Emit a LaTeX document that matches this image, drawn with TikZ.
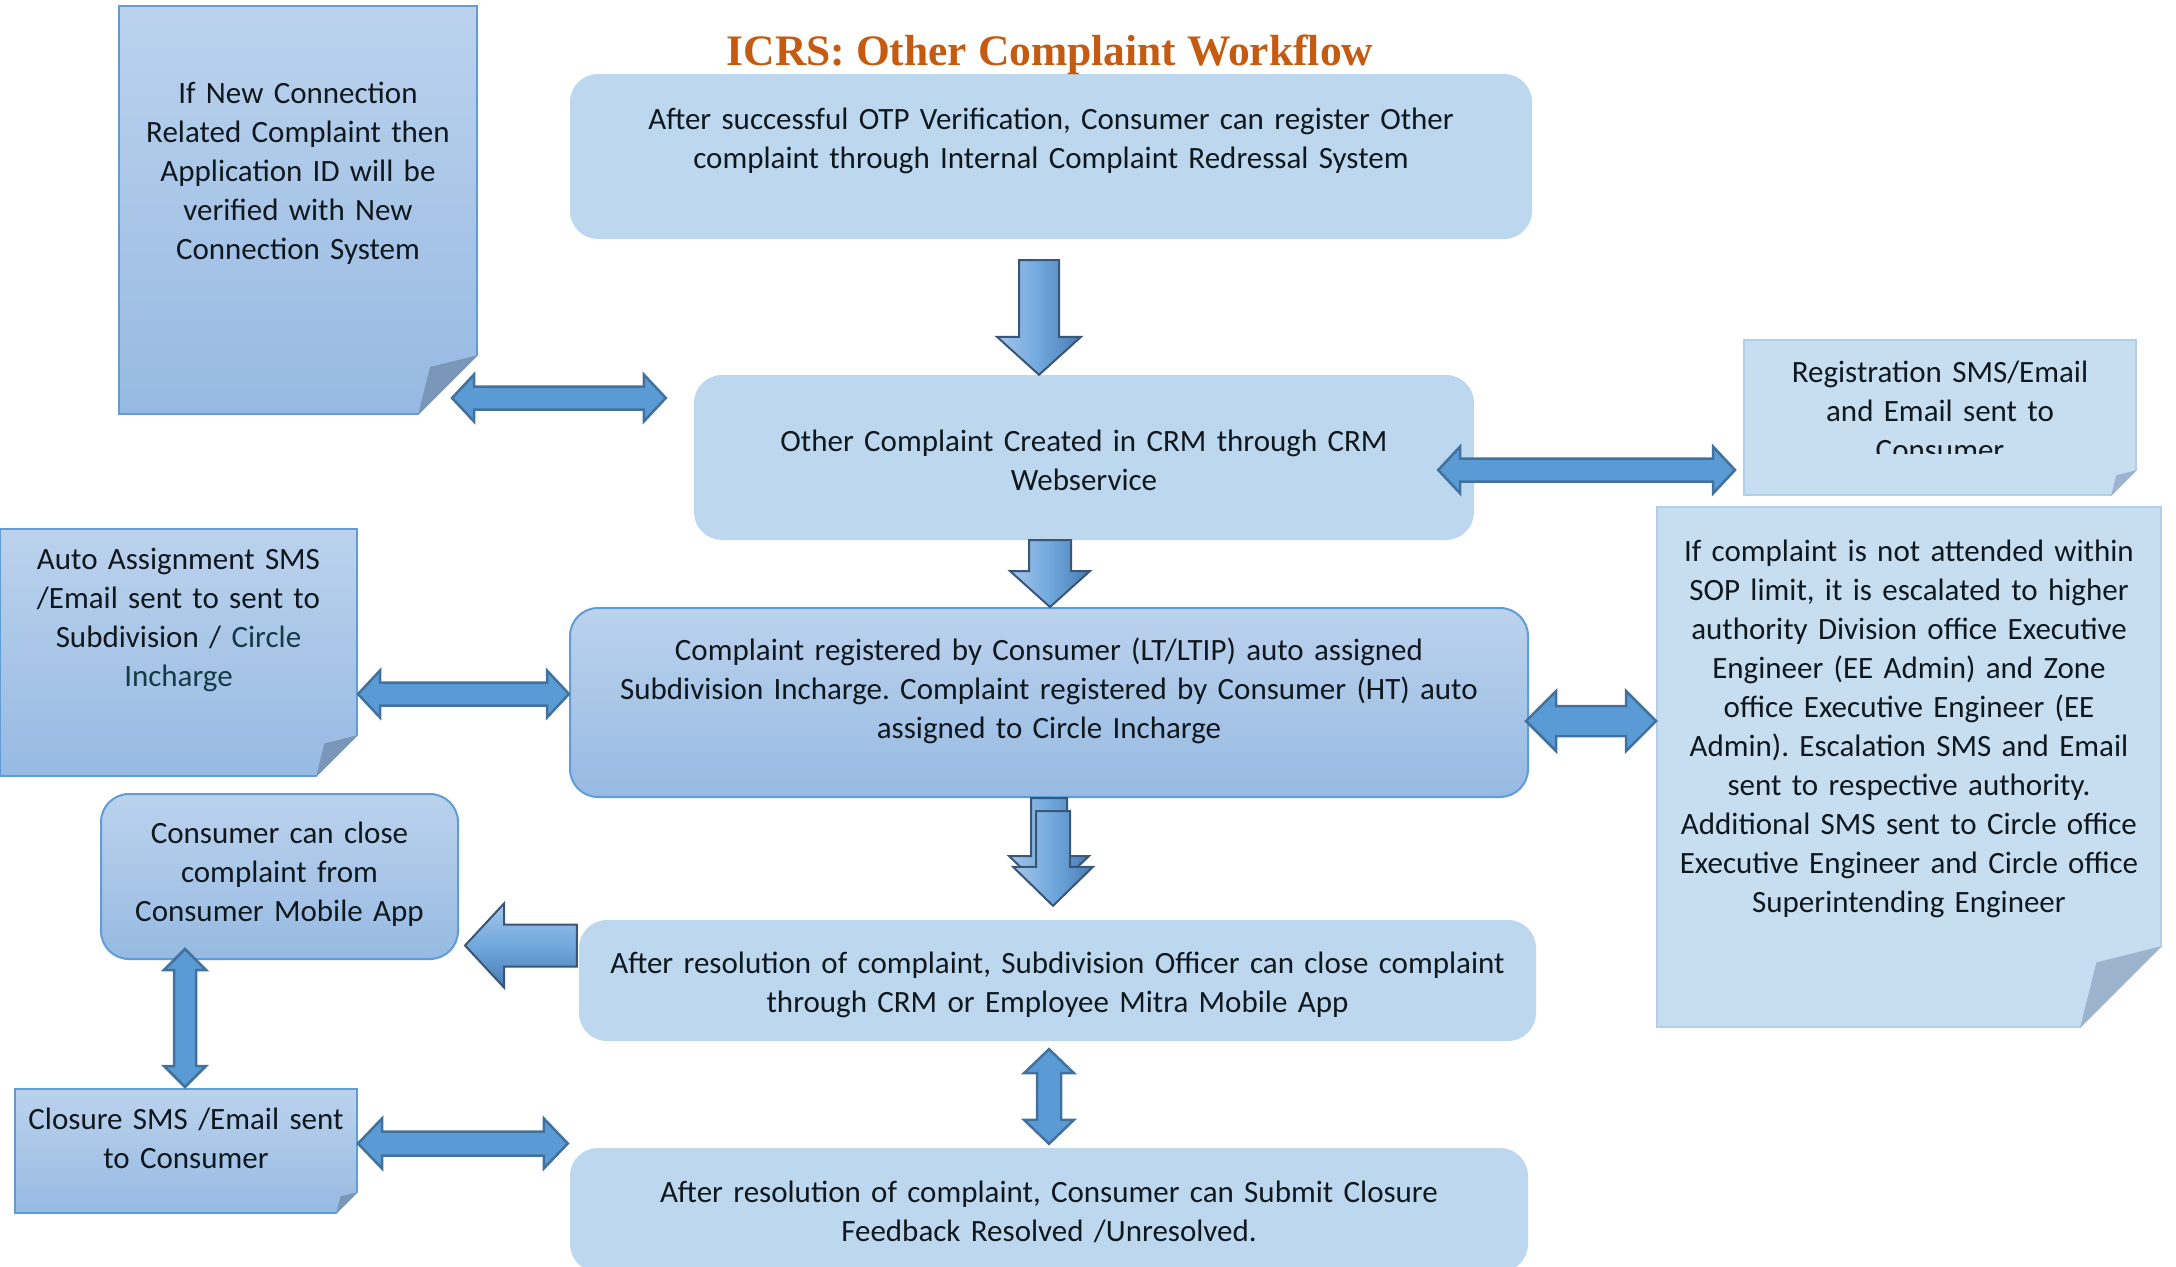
\documentclass[tikz,border=0pt]{standalone}
\usepackage{fontspec}
\setmainfont{Carlito}
\newfontfamily\titlefont{Liberation Serif}
\usetikzlibrary{calc}
\frenchspacing

\definecolor{boxfill}{RGB}{189,215,238}
\definecolor{boxtop}{RGB}{188,210,237}
\definecolor{boxbot}{RGB}{150,186,226}
\definecolor{boxedge}{RGB}{96,156,214}
\definecolor{notelight}{RGB}{199,222,241}
\definecolor{noteedge}{RGB}{178,206,234}
\definecolor{foldgray}{RGB}{122,151,186}
\definecolor{foldlight}{RGB}{158,180,206}
\definecolor{arrowblue}{RGB}{91,155,213}
\definecolor{arrowedge}{RGB}{65,113,156}
\definecolor{bevlight}{RGB}{165,198,232}
\definecolor{bevmid}{RGB}{112,168,222}
\definecolor{bevdark}{RGB}{72,124,178}
\definecolor{beveledge}{RGB}{58,86,118}
\definecolor{textc}{RGB}{14,24,30}
\definecolor{tealc}{RGB}{20,60,72}
\definecolor{titlec}{RGB}{197,90,17}

% extra space (or less) under the text of a node
\newcommand{\liftby}[1]{\par\nointerlineskip\vskip#1pt\hbox{}}
% block arrows: [style]{from}{to}{shaft half}{head half}{head length}
\newcommand{\hdbl}[6][blockarrow]{%
  \path[#1] let \p1=#2, \p2=#3, \n1={\x2-\x1-2*#6} in
    (\p1) -- ++(#6,-#5) -- ++(0,#5-#4) -- ++(\n1,0) -- ++(0,#4-#5) -- (\x2,\y1)
    -- ++(-#6,#5) -- ++(0,#4-#5) -- ++(-\n1,0) -- ++(0,#5-#4) -- cycle;}
\newcommand{\vdbl}[6][blockarrow]{%
  \path[#1] let \p1=#2, \p2=#3, \n1={\y1-\y2-2*#6} in
    (\p1) -- ++(#5,#6) -- ++(#4-#5,0) -- ++(0,-\n1) -- ++(#5-#4,0) -- (\x1,\y2)
    -- ++(-#5,-#6) -- ++(#5-#4,0) -- ++(0,\n1) -- ++(#4-#5,0) -- cycle;}
\newcommand{\vdown}[6][bevelarrow]{%
  \path[#1] let \p1=#2, \p2=#3, \n1={\y1-\y2-#6} in
    (\x1-#4pt,\y1) -- ++(2*#4,0) -- ++(0,-\n1) -- ++(#5-#4,0) -- (\x1,\y2)
    -- ++(-#5,-#6) -- ++(#5-#4,0) -- cycle;}
\newcommand{\hleft}[6][bevelleft]{%
  \path[#1] let \p1=#2, \p2=#3, \n1={\x1-\x2-#6} in
    (\x1,\y1+#4pt) -- ++(-\n1,0) -- ++(0,#4-#5) -- (\x2,\y1)
    -- ++(#6,#5) -- ++(0,#4-#5) -- ++(\n1,0) -- cycle;}
% folded corner of a note
\newcommand{\fold}[3][foldgray]{%
  \fill[white] ($(#2.south east)+(2,-#3-2)$) -- ($(#2.south east)+(2,2)$) -- ($(#2.south east)+(-#3-2,2)$) -- cycle;
  \fill[#1] ($(#2.south east)+(0,-#3)$) -- ($(#2.south east)+(-0.8*#3,-0.8*#3)$) -- ($(#2.south east)+(-#3,0)$) -- cycle;}

\begin{document}
\begin{tikzpicture}[x=1pt,y=-1pt,
  txt/.style={font=\fontsize{31}{39}\selectfont, text=textc, align=center, inner sep=0pt},
  sized/.style 2 args={minimum width=#1, minimum height=#2, text width=#1-6},
  flatbox/.style={txt, fill=boxfill, rounded corners=28},
  shadebox/.style={txt, top color=boxtop, bottom color=boxbot, draw=boxedge, line width=2, rounded corners=28},
  shadenote/.style={txt, top color=boxtop, bottom color=boxbot, draw=boxedge, line width=2},
  lightnote/.style={txt, fill=notelight, draw=noteedge, line width=2},
  lift/.style={execute at end node={\liftby{#1}}},
  blockarrow/.style={fill=arrowblue, draw=arrowedge, line width=2.5},
  bevelarrow/.style={left color=bevlight, right color=bevdark, middle color=bevmid, draw=beveledge, line width=2},
  bevelleft/.style={top color=bevlight, bottom color=bevdark, middle color=bevmid, draw=beveledge, line width=2}]
\useasboundingbox (0,0) rectangle (2176,1266);

\node[flatbox, sized={962}{165}, lift=32] (otp) at (1051,156.5)
  {After successful OTP Verification, Consumer can register Other\\complaint through Internal Complaint Redressal System};
\node[flatbox, sized={780}{165}, lift=-6] (crm) at (1084,457.5)
  {Other Complaint Created in CRM through CRM\\Webservice};
\node[shadebox, sized={958}{189}, lift=23] (reg) at (1049,702.5)
  {Complaint registered by Consumer (LT/LTIP) auto assigned\\Subdivision Incharge. Complaint registered by Consumer (HT) auto\\assigned to Circle Incharge};
\node[flatbox, sized={957}{121}, lift=-8] (close) at (1057.5,980.5)
  {After resolution of complaint, Subdivision Officer can close complaint\\through CRM or Employee Mitra Mobile App};
\node[flatbox, sized={958}{124}, lift=-3] (fb) at (1049,1210)
  {After resolution of complaint, Consumer can Submit Closure\\Feedback Resolved /Unresolved.};

\node[shadenote, sized={358}{408}, lift=74] (newconn) at (298,210)
  {If New Connection\\Related Complaint then\\Application ID will be\\verified with New\\Connection System};
\node[shadenote, sized={357}{247}, lift=65] (autoasg) at (178.5,652.5)
  {Auto Assignment SMS\\/Email sent to sent to\\Subdivision / {\color{tealc}Circle\\Incharge}};
\node[shadebox, sized={357}{165}, lift=5] (cclose) at (279.5,876.5)
  {Consumer can close\\complaint from\\Consumer Mobile App};
\node[shadenote, sized={342}{124}, lift=26] (closure) at (186,1151)
  {Closure SMS /Email sent\\to Consumer};
\node[lightnote, sized={392}{155}] (regsms) at (1940,417.5) {};
\node[lightnote, sized={504}{520}, lift=76] (escal) at (1909,767)
  {If complaint is not attended within\\SOP limit, it is escalated to higher\\authority Division office Executive\\Engineer (EE Admin) and Zone\\office Executive Engineer (EE\\Admin). Escalation SMS and Email\\sent to respective authority.\\Additional SMS sent to Circle office\\Executive Engineer and Circle office\\Superintending Engineer};

\begin{scope}
\clip (regsms.north west) rectangle ($(regsms.south east)+(0,-43)$);
\node[txt, text width=380, lift=13] (regsmstext) at (regsms)
  {Registration SMS/Email\\and Email sent to\\Consumer};
\end{scope}

\fold{newconn}{60}
\fold{autoasg}{42}
\fold{closure}{22}
\fold[foldlight]{regsms}{26}
\fold[foldlight]{escal}{82}

\vdown{($(otp.south)+(-12,21)$)}{($(crm.north)+(-45,0)$)}{20}{42}{38}
\vdown{($(crm.south)+(-34,0)$)}{(reg.north)}{21}{40}{36}
\vdown{(reg.south)}{($(reg.south)+(0,96)$)}{18}{40}{38}
\vdown{($(reg.south)+(4,13)$)}{($(close.north)+(-4.5,-14)$)}{17}{40}{39}
\hleft{($(close.west)+(-2,-35)$)}{($(cclose.east)+(6,69)$)}{21}{42}{39}

\hdbl{($(newconn.south east)+(-26,-17)$)}{($(crm.west)+(-28,-60)$)}{11.5}{23.5}{22}
\hdbl{($(crm.east)+(-36,12.5)$)}{($(regsms.west)+(-8,52.5)$)}{11.5}{23.5}{22}
\hdbl{($(autoasg.east)+(0,41.5)$)}{($(reg.west)+(0,-8.5)$)}{11.5}{23.5}{22}
\hdbl{($(reg.east)+(-3,18.5)$)}{($(escal.west)+(0,-46)$)}{15}{30}{30}
\vdbl{($(close.south)+(-8.5,8)$)}{($(fb.north)+(0,-4)$)}{12}{25}{24}
\vdbl{($(cclose.south)+(-94.5,-11)$)}{($(closure.north)+(-1,-1)$)}{11}{21}{21}
\hdbl{($(closure.east)+(0,-7.5)$)}{($(fb.west)+(-2,-66.5)$)}{12}{25}{24}

\node[font=\titlefont\bfseries\fontsize{43.5}{50}\selectfont, text=titlec] (title) at (1050,55)
  {ICRS: Other Complaint Workflow};
\end{tikzpicture}
\end{document}
